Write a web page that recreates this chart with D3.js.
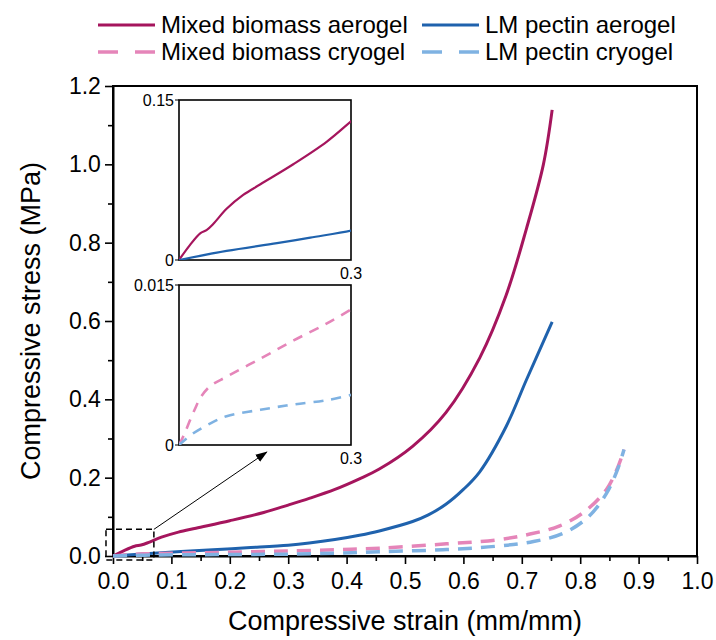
<!DOCTYPE html>
<html><head><meta charset="utf-8">
<script src="https://cdn.jsdelivr.net/npm/d3@7"></script>
<style>body{margin:0;background:#fff}svg{display:block}text{font-family:"Liberation Sans",Arial,sans-serif;fill:#000}</style>
</head><body><svg id="c" width="716" height="640"></svg>
<script>
const seriesNames = ["Mixed biomass aerogel","LM pectin aerogel","Mixed biomass cryogel","LM pectin cryogel"];
const seriesColors = ["#a5155d","#1f62ad","#e585b9","#7fb2e2"];
const seriesDashed = [false,false,true,true];
const mixedAerogel = [[0,0],[0.019,0.014],[0.037,0.025],[0.048,0.028],[0.06,0.034],[0.083,0.048],[0.112,0.061],[0.142,0.071],[0.2,0.09],[0.258,0.111],[0.3,0.13],[0.336,0.147],[0.38,0.17],[0.422,0.197],[0.456,0.222],[0.513,0.28],[0.57,0.366],[0.628,0.506],[0.673,0.665],[0.708,0.836],[0.737,1.0],[0.752,1.139]];
const lmAerogel = [[0,0],[0.083,0.0085],[0.171,0.0158],[0.229,0.021],[0.3,0.0275],[0.336,0.033],[0.38,0.042],[0.422,0.053],[0.456,0.064],[0.513,0.088],[0.54,0.105],[0.57,0.132],[0.6,0.17],[0.628,0.215],[0.673,0.33],[0.708,0.45],[0.752,0.598]];
const mixedCryogel = [[0,0],[0.01,0.0011],[0.019,0.0023],[0.028,0.0034],[0.037,0.0044],[0.054,0.0055],[0.083,0.0064],[0.142,0.0081],[0.2,0.0098],[0.258,0.0114],[0.3,0.0127],[0.38,0.016],[0.456,0.02],[0.571,0.031],[0.657,0.041],[0.714,0.056],[0.765,0.077],[0.808,0.114],[0.845,0.17],[0.865,0.229],[0.875,0.272]];
const lmCryogel = [[0,0],[0.025,0.0011],[0.054,0.002],[0.083,0.0027],[0.142,0.0033],[0.2,0.0038],[0.258,0.0042],[0.3,0.0047],[0.38,0.007],[0.456,0.011],[0.565,0.016],[0.657,0.025],[0.72,0.037],[0.771,0.058],[0.814,0.1],[0.845,0.16],[0.865,0.225],[0.875,0.272]];
const allSeries = [mixedAerogel,lmAerogel,mixedCryogel,lmCryogel];
const xTicks = [0,0.1,0.2,0.3,0.4,0.5,0.6,0.7,0.8,0.9,1.0];
const yTicks = [0,0.2,0.4,0.6,0.8,1.0,1.2];
const inset1Y = [0,0.15];
const inset2Y = [0,0.015];
const insetX = [0,0.3];
const zoomBox = [[-0.012,0.07],[-0.01,0.068]];

const svg = d3.select("#c");
const defs = svg.append("defs");
const W = {l:113,r:697,t:86,b:556};
const x = d3.scaleLinear().domain([0,1]).range([W.l,W.r]);
const y = d3.scaleLinear().domain([0,1.2]).range([W.b,W.t]);

svg.append("rect").attr("x",W.l).attr("y",W.t).attr("width",W.r-W.l).attr("height",W.b-W.t)
  .attr("fill","none").attr("stroke","#000").attr("stroke-width",2);

const gx = svg.append("g").attr("transform",`translate(0,${W.b})`)
  .call(d3.axisBottom(x).tickValues(xTicks).tickFormat(d3.format(".1f")).tickSize(8).tickSizeOuter(0));
svg.append("g").attr("transform",`translate(0,${W.b})`)
  .call(d3.axisBottom(x).tickValues(d3.range(0.05,1,0.1)).tickFormat("").tickSize(5).tickSizeOuter(0))
  .select(".domain").remove();
const gy = svg.append("g").attr("transform",`translate(${W.l},0)`)
  .call(d3.axisLeft(y).tickValues(yTicks).tickFormat(d3.format(".1f")).tickSize(8).tickSizeOuter(0));
svg.append("g").attr("transform",`translate(${W.l},0)`)
  .call(d3.axisLeft(y).tickValues(d3.range(0.1,1.2,0.2)).tickFormat("").tickSize(5).tickSizeOuter(0))
  .select(".domain").remove();
svg.selectAll(".domain").attr("stroke-width",2);
svg.selectAll(".tick line").attr("stroke-width",1.6);
gx.selectAll("text").attr("font-size",23).attr("dy","0.95em");
gy.selectAll("text").attr("font-size",23).attr("dx","-0.05em");

svg.append("text").attr("x",(W.l+W.r)/2).attr("y",630).attr("text-anchor","middle").attr("font-size",27).text("Compressive strain (mm/mm)");
svg.append("text").attr("transform",`translate(40,${(W.t+W.b)/2}) rotate(-90)`).attr("text-anchor","middle").attr("font-size",27).text("Compressive stress (MPa)");

const line = d3.line().x(d=>x(d[0])).y(d=>y(d[1])).curve(d3.curveCatmullRom.alpha(0.5));
allSeries.forEach((s,i)=>{
  svg.append("path").datum(s).attr("d",line).attr("fill","none")
    .attr("stroke",seriesColors[i]).attr("stroke-width",seriesDashed[i]?3.5:3)
    .attr("stroke-dasharray",seriesDashed[i]?"14,9":null).attr("stroke-linecap","butt");
});

svg.append("rect").attr("x",x(zoomBox[0][0])).attr("y",y(zoomBox[1][1]))
  .attr("width",x(zoomBox[0][1])-x(zoomBox[0][0])).attr("height",y(zoomBox[1][0])-y(zoomBox[1][1]))
  .attr("fill","none").attr("stroke","#000").attr("stroke-width",1.5).attr("stroke-dasharray","6,4");
defs.append("marker").attr("id","ah").attr("viewBox","0 0 10 10").attr("refX",9).attr("refY",5)
  .attr("markerWidth",12).attr("markerHeight",12).attr("markerUnits","userSpaceOnUse").attr("orient","auto")
  .append("path").attr("d","M0,1.5 L10,5 L0,8.5 Z").attr("fill","#000");
svg.append("line").attr("x1",x(zoomBox[0][1])).attr("y1",y(zoomBox[1][1]))
  .attr("x2",x(0.263)).attr("y2",y(0.265)).attr("stroke","#000").attr("stroke-width",1).attr("marker-end","url(#ah)");

function inset(box, yDom, idx, yLabel){
  const ix = d3.scaleLinear().domain(insetX).range([box.l,box.r]);
  const iy = d3.scaleLinear().domain(yDom).range([box.b,box.t]);
  const g = svg.append("g");
  g.append("rect").attr("x",box.l).attr("y",box.t).attr("width",box.r-box.l).attr("height",box.b-box.t)
    .attr("fill","#fff").attr("stroke","#000").attr("stroke-width",1.6);
  const cp = "clip"+box.t;
  defs.append("clipPath").attr("id",cp).append("rect")
    .attr("x",box.l).attr("y",box.t-2).attr("width",box.r-box.l).attr("height",box.b-box.t+2);
  const il = d3.line().x(d=>ix(d[0])).y(d=>iy(d[1])).curve(d3.curveCatmullRom.alpha(0.5));
  idx.forEach(i=>{
    g.append("path").datum(allSeries[i].filter(d=>d[0]<=0.34)).attr("d",il).attr("fill","none")
      .attr("clip-path",`url(#${cp})`)
      .attr("stroke",seriesColors[i]).attr("stroke-width",seriesDashed[i]?2.6:2.2)
      .attr("stroke-dasharray",seriesDashed[i]?"10,8":null);
  });
  g.append("line").attr("x1",box.l-4).attr("x2",box.l).attr("y1",box.t).attr("y2",box.t).attr("stroke","#000");
  g.append("line").attr("x1",box.l-4).attr("x2",box.l).attr("y1",box.b).attr("y2",box.b).attr("stroke","#000");
  g.append("text").attr("x",box.l-5).attr("y",box.t).attr("dy","0.35em").attr("text-anchor","end").attr("font-size",16).text(yLabel);
  g.append("text").attr("x",box.l-5).attr("y",box.b).attr("dy","0.35em").attr("text-anchor","end").attr("font-size",16).text("0");
  g.append("text").attr("x",box.r).attr("y",box.b+19).attr("text-anchor","middle").attr("font-size",16).text("0.3");
}
inset({l:179,r:351,t:100,b:260}, inset1Y, [0,1], "0.15");
inset({l:179,r:351,t:285,b:445}, inset2Y, [2,3], "0.015");

const legPos = [[98,25],[422,25],[98,52],[422,52]];
seriesNames.forEach((n,i)=>{
  const [lx,ly] = legPos[i];
  svg.append("line").attr("x1",lx).attr("x2",lx+57).attr("y1",ly).attr("y2",ly)
    .attr("stroke",seriesColors[i]).attr("stroke-width",seriesDashed[i]?3.5:3)
    .attr("stroke-dasharray",seriesDashed[i]?"20,17":null);
  svg.append("text").attr("x",lx+63).attr("y",ly).attr("dy","0.35em").attr("font-size",24).text(n);
});
</script></body></html>
